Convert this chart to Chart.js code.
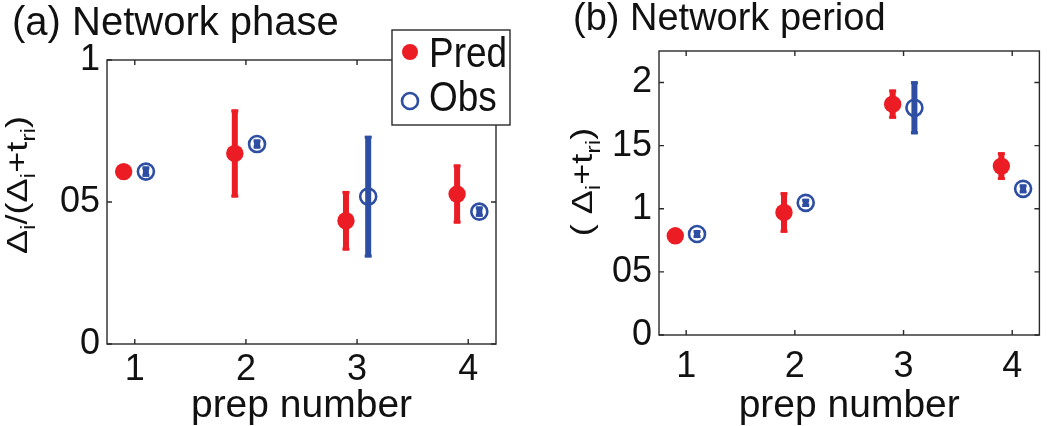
<!DOCTYPE html>
<html>
<head>
<meta charset="utf-8">
<script src="https://cdn.jsdelivr.net/npm/chart.js@4.4.1/dist/chart.umd.min.js"></script>
<style>
  body { margin: 0; background: #fff; }
  #wrap { position: relative; width: 1050px; height: 426px; }
  .panel { position: absolute; top: 0; height: 426px; }
</style>
</head>
<body>
<div id="wrap">
  <div class="panel" style="left:0;width:530px"><canvas id="phase"></canvas></div>
  <div class="panel" style="left:530px;width:520px"><canvas id="period"></canvas></div>
</div>
<script>
// prep numbers, x ticks
const preps = [1, 2, 3, 4];
const xTicks = [1, 2, 3, 4];

// (a) network phase
const phasePred = [0.607, 0.671, 0.434, 0.528];
const phasePredErr = [0.012, 0.155, 0.105, 0.104];
const phaseObs = [0.607, 0.704, 0.519, 0.466];
const phaseObsErr = [0.018, 0.016, 0.214, 0.018];
const phaseTicks = [0, 0.5, 1];
const phaseTickLabels = ['0', '05', '1'];

// (b) network period
const periodPred = [0.786, 0.971, 1.829, 1.338];
const periodPredErr = [0.025, 0.16, 0.115, 0.11];
const periodObs = [0.80, 1.047, 1.80, 1.158];
const periodObsErr = [0.032, 0.032, 0.21, 0.035];
const periodTicks = [0, 0.5, 1, 1.5, 2];
const periodTickLabels = ['0', '05', '1', '15', '2'];

const FONT = '"Liberation Sans", Arial, Helvetica, sans-serif';
const RED = '#ec1c24';
const BLUE = '#2d4ea2';
const INK = '#111';

// error bars drawn under the markers
const errorBars = {
  id: 'errorBars',
  beforeDatasetsDraw(chart) {
    const ctx = chart.ctx;
    const ys = chart.scales.y;
    chart.data.datasets.forEach((ds, di) => {
      const meta = chart.getDatasetMeta(di);
      meta.data.forEach((pt, i) => {
        const v = ds.data[i].y, e = ds.errors[i];
        const top = ys.getPixelForValue(v + e);
        const bot = ys.getPixelForValue(v - e);
        ctx.save();
        ctx.strokeStyle = ds.barColor;
        ctx.lineWidth = 6;
        ctx.beginPath();
        ctx.moveTo(pt.x, top);
        ctx.lineTo(pt.x, bot);
        ctx.stroke();
        ctx.lineWidth = 3;
        ctx.beginPath();
        ctx.moveTo(pt.x - 3.5, top + 1.5); ctx.lineTo(pt.x + 3.5, top + 1.5);
        ctx.moveTo(pt.x - 3.5, bot - 1.5); ctx.lineTo(pt.x + 3.5, bot - 1.5);
        ctx.stroke();
        ctx.restore();
      });
    });
  }
};

// matlab style frame, inward ticks, titles, rotated y label, legend
const frame = {
  id: 'frame',
  afterDraw(chart) {
    const o = chart.options.plugins.frame;
    const ctx = chart.ctx;
    const a = chart.chartArea;
    const xs = chart.scales.x, ys = chart.scales.y;
    ctx.save();
    ctx.strokeStyle = '#2a2a2a';
    ctx.lineWidth = 1.4;
    ctx.strokeRect(a.left, a.top, a.right - a.left, a.bottom - a.top);
    ctx.beginPath();
    xs.ticks.forEach(t => {
      const x = xs.getPixelForValue(t.value);
      ctx.moveTo(x, a.bottom); ctx.lineTo(x, a.bottom - 5);
      ctx.moveTo(x, a.top); ctx.lineTo(x, a.top + 5);
    });
    ys.ticks.forEach(t => {
      const y = ys.getPixelForValue(t.value);
      ctx.moveTo(a.left, y); ctx.lineTo(a.left + 5, y);
      ctx.moveTo(a.right, y); ctx.lineTo(a.right - 5, y);
    });
    ctx.stroke();

    // panel title
    ctx.fillStyle = INK;
    ctx.font = o.titleSize + 'px ' + FONT;
    ctx.textBaseline = 'alphabetic';
    ctx.textAlign = 'left';
    ctx.fillText(o.title, o.titleX, o.titleY);

    // y label with subscripts
    const main = '36px ' + FONT, sub = '25px ' + FONT;
    let w = 0;
    o.ylabel.forEach(p => { ctx.font = p.sub ? sub : main; w += ctx.measureText(p.t).width; });
    ctx.translate(o.ylabelX, o.ylabelY);
    ctx.rotate(-Math.PI / 2);
    ctx.scale(1, 0.8);
    let x = -w / 2;
    o.ylabel.forEach(p => {
      ctx.font = p.sub ? sub : main;
      ctx.fillText(p.t, x, p.sub ? 10 : 0);
      x += ctx.measureText(p.t).width;
    });
    ctx.setTransform(1, 0, 0, 1, 0, 0);
    ctx.restore();

    if (o.legend) {
      const L = o.legend;
      ctx.save();
      ctx.fillStyle = '#fff';
      ctx.fillRect(L.x, L.y, L.w, L.h);
      ctx.strokeStyle = '#2a2a2a';
      ctx.lineWidth = 1.4;
      ctx.strokeRect(L.x, L.y, L.w, L.h);
      chart.data.datasets.forEach((ds, i) => {
        const cy = L.y + 22 + i * 49;
        ctx.beginPath();
        ctx.arc(L.x + 18, cy, 8, 0, Math.PI * 2);
        if (ds.borderWidth) {
          ctx.strokeStyle = ds.borderColor; ctx.lineWidth = 2.6; ctx.stroke();
        } else {
          ctx.fillStyle = ds.backgroundColor; ctx.fill();
        }
        ctx.save();
        ctx.beginPath();
        ctx.rect(L.x, L.y, L.w, L.h);
        ctx.clip();
        ctx.translate(L.x + 37, L.y + 37 + i * 44);
        ctx.scale(0.88, 1);
        ctx.fillStyle = INK;
        ctx.font = '42px ' + FONT;
        ctx.textBaseline = 'alphabetic';
        ctx.fillText(ds.label, 0, 0);
        ctx.restore();
      });
      ctx.restore();
    }
  }
};

function makePanel(id, p) {
  const pts = (vals, dir) => vals.map((v, i) => ({ x: preps[i] + dir * p.shift, y: v }));
  return new Chart(document.getElementById(id), {
    type: 'scatter',
    data: {
      datasets: [
        { label: 'Pred', data: pts(p.pred, -1), errors: p.predErr, barColor: RED,
          backgroundColor: RED, borderColor: 'rgba(0,0,0,0)', borderWidth: 0, pointRadius: 8.7 },
        { label: 'Obs', data: pts(p.obs, 1), errors: p.obsErr, barColor: BLUE,
          backgroundColor: 'rgba(0,0,0,0)', borderColor: BLUE, borderWidth: 2.6, pointRadius: 8 }
      ]
    },
    options: {
      responsive: true,
      maintainAspectRatio: false,
      animation: false,
      layout: { padding: { top: p.area.top, right: p.area.right, left: 0, bottom: 0 } },
      scales: {
        x: {
          type: 'linear', min: 0.75, max: 4.25,
          afterBuildTicks: s => { s.ticks = xTicks.map(v => ({ value: v })); },
          afterFit: s => { s.height = p.area.xHeight; },
          ticks: { font: { family: FONT, size: 36 }, color: INK, padding: p.xPad, maxRotation: 0, autoSkip: false },
          grid: { display: false, drawTicks: false },
          border: { display: false },
          title: { display: true, text: 'prep number', color: INK, padding: 0,
                   font: { family: FONT, size: 39, lineHeight: 1 } }
        },
        y: {
          type: 'linear', min: 0, max: p.ymax,
          afterBuildTicks: s => { s.ticks = p.ticks.map(v => ({ value: v })); },
          afterFit: s => { s.width = p.area.left; },
          ticks: { font: { family: FONT, size: 36 }, color: INK, padding: 7, autoSkip: false,
                   callback: (v, i) => p.tickLabels[i] },
          grid: { display: false, drawTicks: false },
          border: { display: false }
        }
      },
      plugins: {
        legend: { display: false },
        tooltip: { enabled: false },
        frame: p.frame
      }
    },
    plugins: [errorBars, frame]
  });
}

makePanel('phase', {
  pred: phasePred, predErr: phasePredErr, obs: phaseObs, obsErr: phaseObsErr,
  shift: 0.1, ymax: 1, ticks: phaseTicks, tickLabels: phaseTickLabels, xPad: 4,
  area: { top: 60, right: 34, left: 107, xHeight: 82 },
  frame: {
    title: '(a) Network phase', titleX: 12, titleY: 35, titleSize: 40,
    ylabel: [{ t: 'Δ' }, { t: 'i', sub: true }, { t: '/(Δ' }, { t: 'i', sub: true },
             { t: '+t' }, { t: 'ri', sub: true }, { t: ')' }],
    ylabelX: 27, ylabelY: 185,
    legend: { x: 392, y: 30, w: 118, h: 95 }
  }
});

makePanel('period', {
  pred: periodPred, predErr: periodPredErr, obs: periodObs, obsErr: periodObsErr,
  shift: 0.1, ymax: 2.25, ticks: periodTicks, tickLabels: periodTickLabels, xPad: 10,
  area: { top: 51, right: 2, left: 129, xHeight: 91 },
  frame: {
    title: '(b) Network period', titleX: 43, titleY: 30, titleSize: 38,
    ylabel: [{ t: '( Δ' }, { t: 'i', sub: true }, { t: '+t' }, { t: 'ri', sub: true }, { t: ')' }],
    ylabelX: 62, ylabelY: 182,
    legend: null
  }
});
</script>
</body>
</html>
